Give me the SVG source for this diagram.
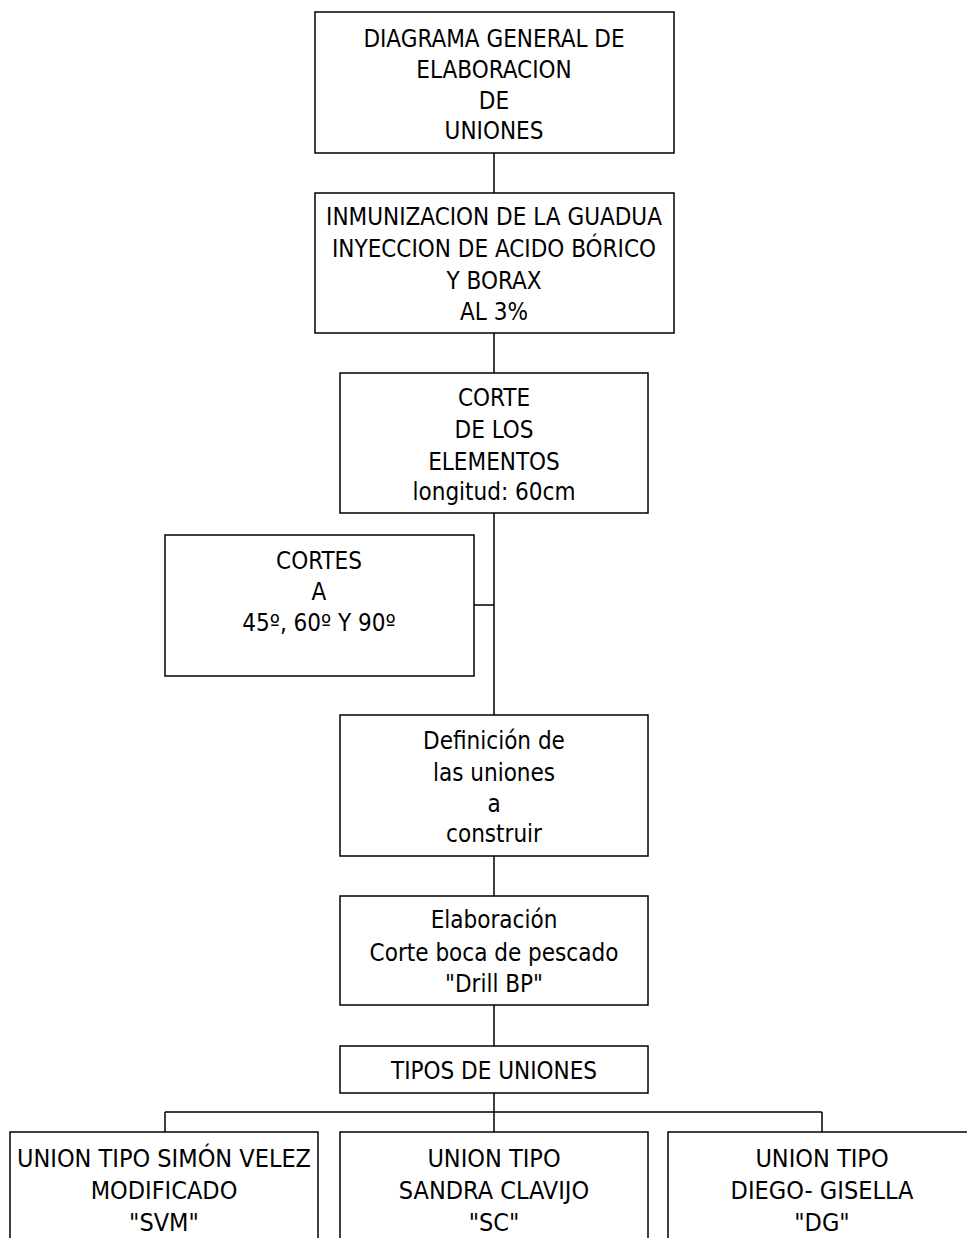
<svg xmlns="http://www.w3.org/2000/svg" width="967" height="1238" viewBox="0 0 967 1238">
<style>
rect{fill:#fff;stroke:#000;stroke-width:1.5}
text{font-family:"DejaVu Sans Condensed","DejaVu Sans",Tahoma,sans-serif;font-stretch:condensed;font-size:24px;fill:#000;text-anchor:middle}
.b{font-size:25px}
.c{fill:none;stroke:#000;stroke-width:1.5}
</style>
<rect width="967" height="1238" fill="#fff" style="stroke:none"/>
<g id="connectors">
<path class="c" d="M494 153V193M494 333V373M494 513V715M474 605H494M494 856V896M494 1005V1046M494 1093V1132M165 1112H822M165 1112V1132M822 1112V1132"/>
</g>
<g id="n1"><rect x="315" y="12" width="359" height="141"/>
<text x="494" y="47">DIAGRAMA GENERAL DE</text><text x="494" y="78">ELABORACION</text><text x="494" y="109">DE</text><text x="494" y="139">UNIONES</text></g>
<g id="n2"><rect x="315" y="193" width="359" height="140"/>
<text x="494" y="225">INMUNIZACION DE LA GUADUA</text><text x="494" y="257">INYECCION DE ACIDO BÓRICO</text><text x="494" y="289">Y BORAX</text><text x="494" y="320">AL 3%</text></g>
<g id="n3"><rect x="340" y="373" width="308" height="140"/>
<text x="494" y="406">CORTE</text><text x="494" y="438">DE LOS</text><text x="494" y="470">ELEMENTOS</text><text x="494" y="500">longitud: 60cm</text></g>
<g id="n4"><rect x="165" y="535" width="309" height="141"/>
<text x="319" y="569">CORTES</text><text x="319" y="600">A</text><text x="319" y="631">45º, 60º Y 90º</text></g>
<g id="n5"><rect x="340" y="715" width="308" height="141"/>
<text x="494" y="749">Definición de</text><text x="494" y="781">las uniones</text><text x="494" y="812">a</text><text x="494" y="842">construir</text></g>
<g id="n6"><rect x="340" y="896" width="308" height="109"/>
<text x="494" y="928">Elaboración</text><text x="494" y="961">Corte boca de pescado</text><text x="494" y="992">"Drill BP"</text></g>
<g id="n7"><rect x="340" y="1046" width="308" height="47"/>
<text x="494" y="1079">TIPOS DE UNIONES</text></g>
<g id="n8"><rect x="10" y="1132" width="308" height="120"/>
<text class="b" x="164" y="1167">UNION TIPO SIMÓN VELEZ</text><text class="b" x="164" y="1199">MODIFICADO</text><text class="b" x="164" y="1231">"SVM"</text></g>
<g id="n9"><rect x="340" y="1132" width="308" height="120"/>
<text class="b" x="494" y="1167">UNION TIPO</text><text class="b" x="494" y="1199">SANDRA CLAVIJO</text><text class="b" x="494" y="1231">"SC"</text></g>
<g id="n10"><rect x="668" y="1132" width="310" height="120"/>
<text class="b" x="822" y="1167">UNION TIPO</text><text class="b" x="822" y="1199">DIEGO- GISELLA</text><text class="b" x="822" y="1231">"DG"</text></g>
</svg>
